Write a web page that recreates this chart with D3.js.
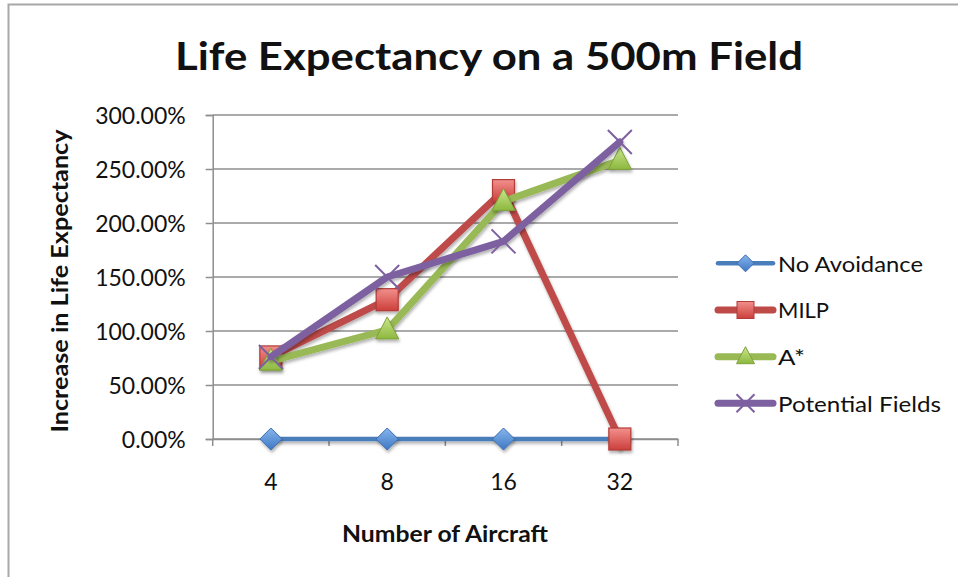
<!DOCTYPE html>
<html>
<head>
<meta charset="utf-8">
<script src="https://cdn.jsdelivr.net/npm/d3@7"></script>
<style>
  html, body { margin: 0; padding: 0; background: #fff; }
  svg { display: block; }
  text { font-family: Lato, "Open Sans", sans-serif; fill: #111; }
</style>
</head>
<body>
<svg id="chart" width="958" height="577"></svg>
<script>
// Chart data
const categories = ["4", "8", "16", "32"];
const seriesNames = ["No Avoidance", "MILP", "A*", "Potential Fields"];
const noAvoidance = [0, 0, 0, 0];
const milp = [0.76, 1.29, 2.30, 0];
const aStar = [0.72, 1.01, 2.20, 2.58];
const potentialFields = [0.76, 1.50, 1.83, 2.75];
const yTicks = [0, 0.5, 1, 1.5, 2, 2.5, 3];

const titleText = "Life Expectancy on a 500m Field";
const xTitleText = "Number of Aircraft";
const yTitleText = "Increase in Life Expectancy";

const series = [
  { name: seriesNames[0], values: noAvoidance, line: "#4A7EBB", width: 4.5, marker: "diamond", fill: ["#86B6EC", "#3E77C4"], stroke: "#3F6FAE" },
  { name: seriesNames[1], values: milp, line: "#BE4B48", width: 7, marker: "square", fill: ["#F2908C", "#CC3F3B"], stroke: "#B13C38" },
  { name: seriesNames[2], values: aStar, line: "#98B954", width: 7, marker: "triangle", fill: ["#CBE690", "#8CB83E"], stroke: "#7FA13A" },
  { name: seriesNames[3], values: potentialFields, line: "#7D60A0", width: 7, marker: "cross", fill: null, stroke: "#7D60A0" }
];

const svg = d3.select("#chart");
const defs = svg.append("defs");

// Soft drop shadow, in page units so flat lines keep it too
const shadow = defs.append("filter").attr("id", "shadow")
  .attr("filterUnits", "userSpaceOnUse")
  .attr("x", 0).attr("y", 0).attr("width", 958).attr("height", 577);
shadow.append("feDropShadow").attr("dx", 1).attr("dy", 2.5)
  .attr("stdDeviation", 1.6).attr("flood-color", "#000").attr("flood-opacity", 0.3);

series.forEach((s, i) => {
  if (!s.fill) return;
  const g = defs.append("linearGradient").attr("id", "grad" + i)
    .attr("x1", 0).attr("y1", 0).attr("x2", 0).attr("y2", 1);
  g.append("stop").attr("offset", "0%").attr("stop-color", s.fill[0]);
  g.append("stop").attr("offset", "100%").attr("stop-color", s.fill[1]);
});

// Chart frame (left and top edges)
svg.append("path").attr("d", "M8.5,577 L8.5,4.5 L958,4.5")
  .attr("fill", "none").attr("stroke", "#A8A8A8").attr("stroke-width", 2);

// Scales
const plot = { left: 212.7, right: 678, top: 115, bottom: 439 };
const x = d3.scaleBand().domain(categories).range([plot.left, plot.right]).paddingInner(0).paddingOuter(0);
const y = d3.scaleLinear().domain([0, 3]).range([plot.bottom, plot.top]);
const cx = c => x(c) + x.bandwidth() / 2;

const gridColor = "#8E8E8E";

// Horizontal gridlines
svg.append("g").selectAll("line").data(yTicks).join("line")
  .attr("x1", plot.left).attr("x2", plot.right)
  .attr("y1", d => y(d)).attr("y2", d => y(d))
  .attr("stroke", gridColor).attr("stroke-width", 1.5);

// Y axis
const yAxis = svg.append("g").attr("transform", `translate(${plot.left},0)`)
  .call(d3.axisLeft(y).tickValues(yTicks).tickFormat(d3.format(".2%")).tickSize(7).tickPadding(20));
yAxis.select(".domain").attr("stroke", gridColor).attr("stroke-width", 1.5);
yAxis.selectAll(".tick line").attr("stroke", gridColor).attr("stroke-width", 1.5);
yAxis.selectAll(".tick text").attr("font-size", 23).attr("fill", "#111")
  .style("font-family", "Lato, sans-serif").attr("dy", "0.35em");

// X axis (ticks on category boundaries)
const xAxis = svg.append("g").attr("transform", `translate(0,${plot.bottom})`)
  .call(d3.axisBottom(x).tickSize(0).tickPadding(51));
xAxis.select(".domain").attr("stroke", gridColor).attr("stroke-width", 1.5);
xAxis.selectAll(".tick text").attr("font-size", 23).attr("fill", "#111")
  .style("font-family", "Lato, sans-serif").attr("dy", "0");
const edges = categories.map(c => x(c)).concat([plot.right]);
svg.append("g").selectAll("line").data(edges).join("line")
  .attr("x1", d => d).attr("x2", d => d)
  .attr("y1", plot.bottom).attr("y2", plot.bottom + 7)
  .attr("stroke", gridColor).attr("stroke-width", 1.5);

// Marker shapes, drawn in page coordinates
function drawMarker(g, s, i, px, py) {
  if (s.marker === "diamond") {
    const r = 11;
    g.append("path").attr("d", `M${px},${py - r} L${px + r},${py} L${px},${py + r} L${px - r},${py} Z`)
      .attr("fill", `url(#grad${i})`).attr("stroke", s.stroke).attr("stroke-width", 1)
      .attr("filter", "url(#shadow)");
  } else if (s.marker === "square") {
    g.append("rect").attr("x", px - 11).attr("y", py - 11).attr("width", 22).attr("height", 22)
      .attr("fill", `url(#grad${i})`).attr("stroke", s.stroke).attr("stroke-width", 1.2)
      .attr("filter", "url(#shadow)");
  } else if (s.marker === "triangle") {
    g.append("path").attr("d", `M${px},${py - 13} L${px + 11.5},${py + 9} L${px - 11.5},${py + 9} Z`)
      .attr("fill", `url(#grad${i})`).attr("stroke", s.stroke).attr("stroke-width", 1)
      .attr("filter", "url(#shadow)");
  } else {
    const r = 12;
    g.append("path").attr("d", `M${px - r},${py - r} L${px + r},${py + r} M${px - r},${py + r} L${px + r},${py - r}`)
      .attr("stroke", s.stroke).attr("stroke-width", 2).attr("fill", "none");
  }
}

// Series lines with markers
const line = d3.line().x(d => cx(d.c)).y(d => y(d.v));
series.forEach((s, i) => {
  const pts = categories.map((c, k) => ({ c, v: s.values[k] }));
  const g = svg.append("g");
  g.append("path").datum(pts).attr("d", line)
    .attr("fill", "none").attr("stroke", s.line).attr("stroke-width", s.width)
    .attr("stroke-linejoin", "round").attr("stroke-linecap", "round")
    .attr("filter", "url(#shadow)");
  pts.forEach(p => drawMarker(g, s, i, cx(p.c), y(p.v)));
});

// Titles
function fit(sel, w) { sel.attr("textLength", w).attr("lengthAdjust", "spacingAndGlyphs"); return sel; }

fit(svg.append("text").attr("x", 489).attr("y", 70).attr("text-anchor", "middle")
  .attr("font-size", 39).attr("font-weight", 700).text(titleText), 628);

fit(svg.append("text").attr("x", 445).attr("y", 542).attr("text-anchor", "middle")
  .attr("font-size", 22).attr("font-weight", 700).text(xTitleText), 206);

fit(svg.append("text").attr("transform", "translate(68,281) rotate(-90)").attr("text-anchor", "middle")
  .attr("font-size", 22).attr("font-weight", 700).text(yTitleText), 303);

// Legend
const legendRowY = [263.3, 310, 356.7, 403.3];
const legendWidths = [145, 51, 27, 163];
series.forEach((s, i) => {
  const ly = legendRowY[i];
  const mx = 745.5;
  const g = svg.append("g");
  g.append("line").attr("x1", 718).attr("x2", 773).attr("y1", ly).attr("y2", ly)
    .attr("stroke", s.line).attr("stroke-width", s.width).attr("stroke-linecap", "round");
  if (s.marker === "square") {
    g.append("rect").attr("x", mx - 8.5).attr("y", ly - 8.5).attr("width", 17).attr("height", 17)
      .attr("fill", `url(#grad${i})`).attr("stroke", s.stroke).attr("stroke-width", 1);
  } else if (s.marker === "diamond") {
    const r = 8.5;
    g.append("path").attr("d", `M${mx},${ly - r} L${mx + r},${ly} L${mx},${ly + r} L${mx - r},${ly} Z`)
      .attr("fill", `url(#grad${i})`).attr("stroke", s.stroke).attr("stroke-width", 1);
  } else if (s.marker === "triangle") {
    g.append("path").attr("d", `M${mx},${ly - 10} L${mx + 9},${ly + 7} L${mx - 9},${ly + 7} Z`)
      .attr("fill", `url(#grad${i})`).attr("stroke", s.stroke).attr("stroke-width", 1);
  } else {
    const r = 9;
    g.append("path").attr("d", `M${mx - r},${ly - r} L${mx + r},${ly + r} M${mx - r},${ly + r} L${mx + r},${ly - r}`)
      .attr("stroke", s.stroke).attr("stroke-width", 2);
  }
  fit(g.append("text").attr("x", 778).attr("y", ly + 8.3).attr("font-size", 22).text(s.name), legendWidths[i]);
});
</script>
</body>
</html>
